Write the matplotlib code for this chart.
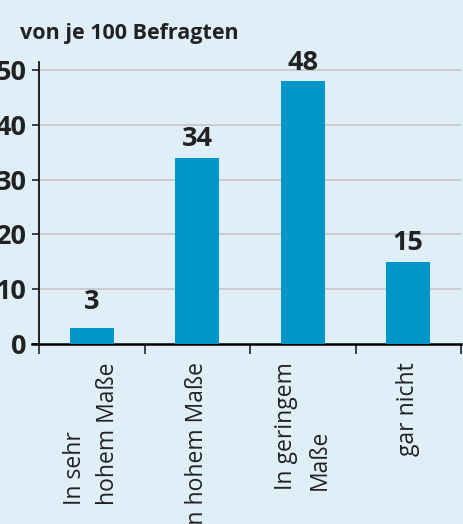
import numpy as np
import matplotlib.pyplot as plt

# Data
categories = ["In sehr\nhohem Maße", "In hohem Maße", "In geringem\nMaße", "gar nicht"]
values = [3, 34, 48, 15]
yticks = [0, 10, 20, 30, 40, 50]
title = "von je 100 Befragten"

bg = "#dfeef7"
bar_color = "#0096c9"
text_color = "#222222"

plt.rcParams['font.family'] = ['Open Sans', 'DejaVu Sans']

fig = plt.figure(figsize=(4.63, 5.24), dpi=100, facecolor=bg)
ax = fig.add_axes([39 / 463, 180 / 524, 422 / 463, 282 / 524])
ax.set_facecolor(bg)

x = np.arange(len(categories))
ax.bar(x, values, width=0.42, color=bar_color, zorder=3)

# value labels above bars (small bars get a minimum label height)
for xi, v in zip(x, values):
    ax.text(xi, max(v, 4.3) + 1.0, str(v), ha='center', va='bottom',
            fontsize=19.5, fontweight='bold', color=text_color)

ax.set_xlim(-0.5, len(categories) - 0.5)
ax.set_ylim(0, 51.5)

# y axis
ax.set_yticks(yticks)
ax.set_yticklabels([str(t) for t in yticks], fontsize=19.5, fontweight='bold',
                   color=text_color)
ax.tick_params(axis='y', length=5, width=1.2, pad=4, color=text_color)
for t in yticks[1:]:
    ax.axhline(t, color='#c8cccf', lw=1.4, zorder=1)

# x axis: boundary ticks as major, category labels as minor
ax.set_xticks(np.arange(len(categories) + 1) - 0.5)
ax.set_xticklabels([])
ax.tick_params(axis='x', which='major', length=7, width=1.2, color=text_color)
ax.set_xticks(x, minor=True)
ax.set_xticklabels(categories, minor=True, rotation=90, fontsize=16.5,
                   color=text_color, va='top', ha='center', linespacing=1.5)
ax.tick_params(axis='x', which='minor', length=0, pad=13)
for lbl in ax.get_xticklabels(minor=True):
    lbl.set_multialignment('left')

for s in ['top', 'right']:
    ax.spines[s].set_visible(False)
ax.spines['left'].set_linewidth(1.2)
ax.spines['bottom'].set_linewidth(1.8)
ax.spines['bottom'].set_bounds(-0.565, len(categories) - 0.5)

fig.text(20 / 463, 1 - 39 / 524, title, fontsize=15.5, fontweight='bold',
         color=text_color, va='baseline', ha='left')

fig.savefig("out.png", dpi=100, facecolor=bg)
